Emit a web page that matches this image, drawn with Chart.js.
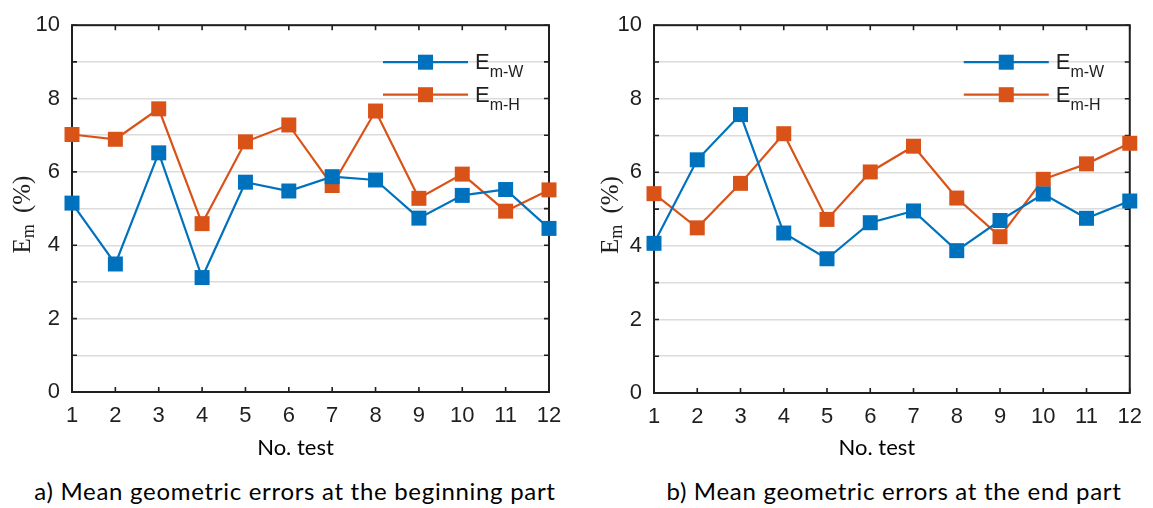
<!DOCTYPE html>
<html>
<head>
<meta charset="utf-8">
<script src="https://cdn.jsdelivr.net/npm/chart.js@4.4.1/dist/chart.umd.min.js"></script>
<style>
  body { margin: 0; background: #fff; width: 1153px; height: 508px; position: relative; overflow: hidden; }
  canvas { position: absolute; top: 0; }
  #leftChart { left: 0; }
  #rightChart { left: 590px; }
  .caption { position: absolute; top: 476px; font-family: Lato, "Open Sans", sans-serif; font-size: 24px; letter-spacing: 0.7px; color: #000; white-space: nowrap; transform: translateX(-50%); }
</style>
</head>
<body>
<canvas id="leftChart" width="600" height="462"></canvas>
<canvas id="rightChart" width="563" height="463"></canvas>
<div class="caption" style="left:295px">a) Mean geometric errors at the beginning part</div>
<div class="caption" style="left:894px">b) Mean geometric errors at the end part</div>

<script>
// test numbers on the x axis
const tests = ['1', '2', '3', '4', '5', '6', '7', '8', '9', '10', '11', '12'];

// a) beginning part
const beginW = [5.15, 3.49, 6.52, 3.12, 5.72, 5.48, 5.87, 5.78, 4.74, 5.36, 5.52, 4.46];
const beginH = [7.02, 6.89, 7.72, 4.59, 6.82, 7.28, 5.63, 7.66, 5.28, 5.94, 4.93, 5.51];

// b) end part
const endW = [4.07, 6.34, 7.57, 4.35, 3.65, 4.63, 4.95, 3.87, 4.69, 5.41, 4.75, 5.22];
const endH = [5.42, 4.49, 5.70, 7.05, 4.72, 6.01, 6.71, 5.30, 4.25, 5.81, 6.23, 6.79];

const seriesNames = ['m-W', 'm-H'];
const yLabels = [0, 2, 4, 6, 8, 10];

const BLUE = '#0072BD';
const ORANGE = '#D95319';
const INK = '#1f1f1f';
const TICK_FONT = '"Liberation Sans", Arial, sans-serif';

// frame + inward tick marks (MATLAB style box), axis titles, legend
const framePlugin = {
    id: 'frame',
    beforeDatasetsDraw(chart) {
        const ctx = chart.ctx;
        const a = chart.chartArea;
        const xs = chart.scales.x, ys = chart.scales.y;
        ctx.save();
        ctx.strokeStyle = INK;
        ctx.lineWidth = 1.6;
        ctx.beginPath();
        ys.ticks.forEach(t => {
            const y = ys.getPixelForValue(t.value);
            ctx.moveTo(a.left, y); ctx.lineTo(a.left + 5, y);
            ctx.moveTo(a.right, y); ctx.lineTo(a.right - 5, y);
        });
        xs.ticks.forEach((t, i) => {
            const x = xs.getPixelForTick(i);
            ctx.moveTo(x, a.bottom); ctx.lineTo(x, a.bottom - 5);
            ctx.moveTo(x, a.top); ctx.lineTo(x, a.top + 5);
        });
        ctx.stroke();
        ctx.lineWidth = 2;
        ctx.strokeRect(a.left, a.top, a.right - a.left, a.bottom - a.top);
        ctx.restore();
    },
    afterDraw(chart, args, opts) {
        const ctx = chart.ctx;
        const a = chart.chartArea;
        ctx.save();
        // y axis title E_m (%)
        ctx.fillStyle = INK;
        ctx.translate(opts.yTitleX, (a.top + a.bottom) / 2 + 6);
        ctx.rotate(-Math.PI / 2);
        ctx.textBaseline = 'alphabetic';
        ctx.font = '25px "Liberation Serif", serif';
        const w1 = ctx.measureText('E').width;
        ctx.font = '18px "Liberation Serif", serif';
        const w2 = ctx.measureText('m').width;
        ctx.font = '25px "Liberation Serif", serif';
        const w3 = ctx.measureText(' (%)').width + 5;
        let x0 = -(w1 + w2 + w3) / 2;
        ctx.fillText('E', x0, 9);
        ctx.font = '18px "Liberation Serif", serif';
        ctx.fillText('m', x0 + w1, 13);
        ctx.font = '25px "Liberation Serif", serif';
        ctx.fillText(' (%)', x0 + w1 + w2 + 5, 9);
        ctx.restore();

        // x axis title
        ctx.save();
        ctx.fillStyle = '#000';
        ctx.font = '22px Lato, "Open Sans", sans-serif';
        ctx.textAlign = 'center';
        ctx.textBaseline = 'middle';
        ctx.fillText('No. test', (a.left + a.right) / 2 - 15, 448);
        ctx.restore();

        // legend
        ctx.save();
        chart.data.datasets.forEach((ds, i) => {
            const y = a.top + 37 + i * 32.5;
            const x1 = a.right - 166, x2 = a.right - 81;
            ctx.strokeStyle = ds.borderColor;
            ctx.lineWidth = 2.2;
            ctx.beginPath();
            ctx.moveTo(x1, y); ctx.lineTo(x2, y);
            ctx.stroke();
            ctx.fillStyle = ds.borderColor;
            ctx.fillRect((x1 + x2) / 2 - 7.5, y - 7.5, 15, 15);
            ctx.fillStyle = INK;
            ctx.textBaseline = 'alphabetic';
            ctx.font = '22px ' + TICK_FONT;
            ctx.fillText('E', a.right - 74, y + 7);
            const ew = ctx.measureText('E').width;
            ctx.font = '16px ' + TICK_FONT;
            ctx.fillText(seriesNames[i], a.right - 74 + ew, y + 15);
        });
        ctx.restore();
    }
};

function makeChart(id, wData, hData, pad, yWidth, yTitleX) {
    const ctx = document.getElementById(id).getContext('2d');
    return new Chart(ctx, {
        type: 'line',
        data: {
            labels: tests,
            datasets: [{
                label: 'Em-W',
                data: wData,
                borderColor: BLUE,
                backgroundColor: BLUE,
                borderWidth: 2.2,
                pointStyle: 'rect',
                pointRadius: 10.6,
                pointBorderWidth: 0,
                clip: false
            }, {
                label: 'Em-H',
                data: hData,
                borderColor: ORANGE,
                backgroundColor: ORANGE,
                borderWidth: 2.2,
                pointStyle: 'rect',
                pointRadius: 10.6,
                pointBorderWidth: 0,
                clip: false
            }]
        },
        options: {
            responsive: false,
            animation: false,
            events: [],
            layout: { padding: pad },
            plugins: {
                legend: { display: false },
                tooltip: { enabled: false },
                frame: { yTitleX: yTitleX }
            },
            scales: {
                x: {
                    offset: false,
                    grid: { display: false, drawTicks: false },
                    border: { display: false },
                    ticks: { color: INK, font: { family: TICK_FONT, size: 22 }, padding: 11, maxRotation: 0, autoSkip: false },
                    afterFit: s => { s.height = 70; }
                },
                y: {
                    min: 0,
                    max: 10,
                    ticks: {
                        stepSize: 1,
                        color: INK,
                        padding: 12,
                        font: { family: TICK_FONT, size: 22 },
                        callback: v => yLabels.includes(v) ? v : ''
                    },
                    grid: { color: '#dcdcdc', lineWidth: 1.5, drawTicks: false },
                    border: { display: false },
                    afterFit: s => { s.width = yWidth; }
                }
            }
        },
        plugins: [framePlugin]
    });
}

makeChart('leftChart', beginW, beginH, { top: 15, right: 51, left: 0, bottom: 0 }, 72, 21);
makeChart('rightChart', endW, endH, { top: 15, right: 19, left: 0, bottom: 0 }, 64, 19);
</script>
</body>
</html>
